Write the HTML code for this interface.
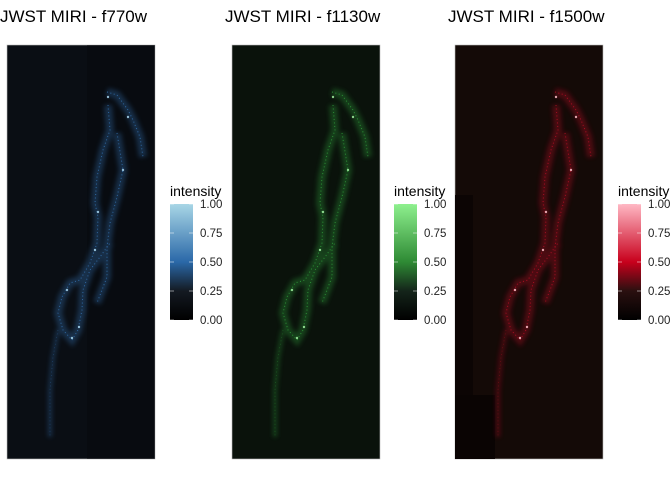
<!DOCTYPE html>
<html><head><meta charset="utf-8">
<style>
html,body{margin:0;padding:0;background:#fff;width:672px;height:480px;overflow:hidden;font-family:"Liberation Sans",Arial,sans-serif;}
svg{display:block}
</style></head>
<body>
<svg id="chart" width="672" height="480" viewBox="0 0 672 480">
<defs>
<linearGradient id="gb" x1="0" y1="1" x2="0" y2="0"><stop offset="0" stop-color="#000"/><stop offset="0.25" stop-color="#141a22"/><stop offset="0.5" stop-color="#2a68a8"/><stop offset="1" stop-color="#a8d6e6"/></linearGradient>
<linearGradient id="gg" x1="0" y1="1" x2="0" y2="0"><stop offset="0" stop-color="#000"/><stop offset="0.25" stop-color="#14241a"/><stop offset="0.5" stop-color="#2e8a34"/><stop offset="1" stop-color="#8ef08e"/></linearGradient>
<linearGradient id="gr" x1="0" y1="1" x2="0" y2="0"><stop offset="0" stop-color="#000"/><stop offset="0.25" stop-color="#2a1010"/><stop offset="0.5" stop-color="#c8001c"/><stop offset="1" stop-color="#ffb8c4"/></linearGradient>
<filter id="blur"><feGaussianBlur stdDeviation="2.5"/></filter>
</defs>
</svg>
<script>
// galaxy arm traces (panel-relative px, panel 148x414) and bright knots
const armOuter = [[100,47],[110,50],[121,65],[126,75],[133,92],[136,112]];
const armInner = [[101,60],[103,85],[96,105],[90,132],[88,158],[91,172],[90,198],[83,218],[73,235],[63,238],[55,252],[51,268],[56,285],[65,295],[71,285],[75,265],[76,245],[83,225],[93,212],[103,198]];
const armRight = [[110,88],[116,125],[110,152],[103,178],[100,202],[100,232],[90,258]];
const armTail = [[51,285],[46,312],[43,345],[43,392]];
const knots = [[121,72],[91,167],[88,205],[65,293],[101,52],[116,125],[60,245],[72,282]];
const ticks = [0,0.25,0.5,0.75,1];
const titles = ["JWST MIRI - f770w","JWST MIRI - f1130w","JWST MIRI - f1500w"];
const panelX = [7,232,455];
const bgs = ["#0a0e14","#0a120b","#140a07"];
const arms = ["#3a80c8","#36b042","#d0102a"];
const bright = ["#a8d6f0","#a0f0a0","#ffc0c8"];
const grads = ["gb","gg","gr"];
const legX = [170,394,618];

const NS="http://www.w3.org/2000/svg";
const svg=document.getElementById('chart');
function mk(t,a,p){const e=document.createElementNS(NS,t);for(const k in a)e.setAttribute(k,a[k]);(p||svg).appendChild(e);return e;}
const PW=148,PH=414,PY=45;
const tickLbl=v=>v.toFixed(2);

for(let i=0;i<3;i++){
  const g=mk('g',{transform:`translate(${panelX[i]},${PY})`});
  
  
  const bg=mk('rect',{x:0,y:0,width:PW,height:PH,fill:bgs[i],stroke:'#bbb','stroke-width':0.6},g);
  
  
  if(i===2){mk('rect',{x:0,y:150,width:18,height:200,fill:'#0c0504'},g);mk('rect',{x:0,y:350,width:40,height:64,fill:'#0a0403'},g);}
  if(i===0){mk('rect',{x:80,y:0,width:68,height:414,fill:'#05070b',opacity:0.4},g);}
  const glow=mk('g',{filter:'url(#blur)',opacity:0.3},g);
  [armOuter,armInner,armRight,armTail].forEach((a,j)=>{
    const pts=a.map(p=>p.join(',')).join(' ');
    mk('polyline',{points:pts,fill:'none',stroke:arms[i],'stroke-width':j===3?4:8},glow);
    const l=mk('polyline',{points:pts,fill:'none',stroke:arms[i],'stroke-width':j===3?0.6:1,opacity:j===3?0.4:0.7,'stroke-dasharray':'1 2.5'},g);
    
    
  });
  knots.forEach(k=>{
    const c=mk('circle',{cx:k[0],cy:k[1],r:1.2,fill:bright[i],opacity:0.85},g);
    
    
  });
  const t=mk('text',{x:panelX[i]-7,y:22,'font-size':17,fill:'#000'});
  t.textContent=titles[i];
  
  
  const lx=legX[i],top=204,bot=320;
  const lg=mk('g',{});
  
  
  const lt=mk('text',{x:lx,y:196,'font-size':14,fill:'#000'},lg);
  lt.textContent='intensity';
  
  
  const bar=mk('rect',{x:lx,y:top,width:23,height:bot-top,fill:`url(#${grads[i]})`},lg);
  
  
  ticks.forEach(v=>{
    const y=bot-v*(bot-top);
    mk('line',{x1:lx,x2:lx+4,y1:y,y2:y,stroke:'#fff','stroke-opacity':0.5},lg);
    mk('line',{x1:lx+19,x2:lx+23,y1:y,y2:y,stroke:'#fff','stroke-opacity':0.5},lg);
    const tx=mk('text',{x:lx+30,y:y+4,'font-size':11.5,fill:'#222'},lg);
    tx.textContent=tickLbl(v);
    
    
  });
}
</script>
</body></html>
